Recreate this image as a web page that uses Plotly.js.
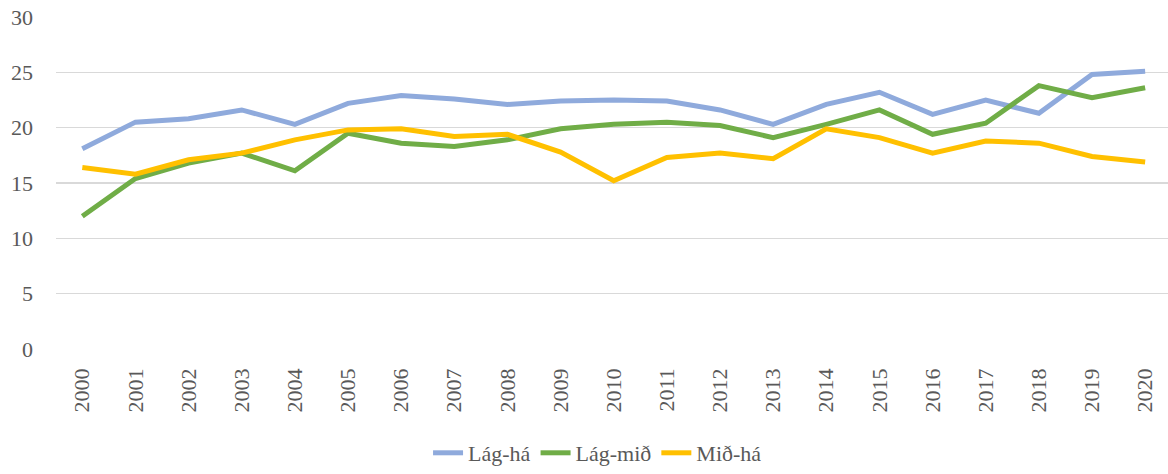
<!DOCTYPE html>
<html>
<head>
<meta charset="utf-8">
<script src="https://cdn.plot.ly/plotly-3.0.1.min.js"></script>
<style>html,body{margin:0;padding:0;background:#fff;}#chart{width:1168px;height:474px;}</style>
</head>
<body>
<div id="chart"></div>
<script>
const years = ["2000","2001","2002","2003","2004","2005","2006","2007","2008","2009","2010","2011","2012","2013","2014","2015","2016","2017","2018","2019","2020"];
const lagHa  = [18.1,20.5,20.8,21.6,20.3,22.2,22.9,22.6,22.1,22.4,22.5,22.4,21.6,20.3,22.1,23.2,21.2,22.5,21.3,24.8,25.1];
const lagMid = [12.0,15.4,16.8,17.7,16.1,19.5,18.6,18.3,18.9,19.9,20.3,20.5,20.2,19.1,20.3,21.6,19.4,20.4,23.8,22.7,23.6];
const midHa  = [16.4,15.8,17.1,17.7,18.9,19.8,19.9,19.2,19.4,17.8,15.2,17.3,17.7,17.2,19.9,19.1,17.7,18.8,18.6,17.4,16.9];
const seriesNames = ["Lág-há","Lág-mið","Mið-há"];
const yTicks = [0,5,10,15,20,25,30];

const colors = ["#8faadc","#70ad47","#ffc000"];
function mkFont(size){ return {family:"Liberation Serif, Times New Roman, serif", size:size, color:"#595959"}; }
const data = [lagHa, lagMid, midHa].map((v,i)=>({
  x: years, y: v, name: seriesNames[i], type:"scatter", mode:"lines",
  line:{color:colors[i], width:5}
}));
const layout = {
  width:1168, height:474,
  margin:{l:56, r:0, t:17, b:122},
  paper_bgcolor:"#fff", plot_bgcolor:"#fff",
  font: mkFont(22),
  showlegend:true,
  legend:{orientation:"h", x:0.487, xanchor:"center", y:-0.315, yanchor:"middle", font:mkFont(22),
          bgcolor:"rgba(0,0,0,0)"},
  xaxis:{type:"category", range:[-0.495,20.43], showgrid:false, zeroline:false, showline:false,
         tickangle:-90, tickfont:mkFont(22), ticks:"", ticklabelstandoff:14},
  yaxis:{range:[0,30], tickvals:yTicks, showgrid:true, gridcolor:"#d9d9d9", gridwidth:1.5,
         zeroline:false, showline:false, ticks:"", tickfont:mkFont(22), ticklabelstandoff:22}
};
Plotly.newPlot("chart", data, layout, {staticPlot:true, displayModeBar:false});
</script>
</body>
</html>
